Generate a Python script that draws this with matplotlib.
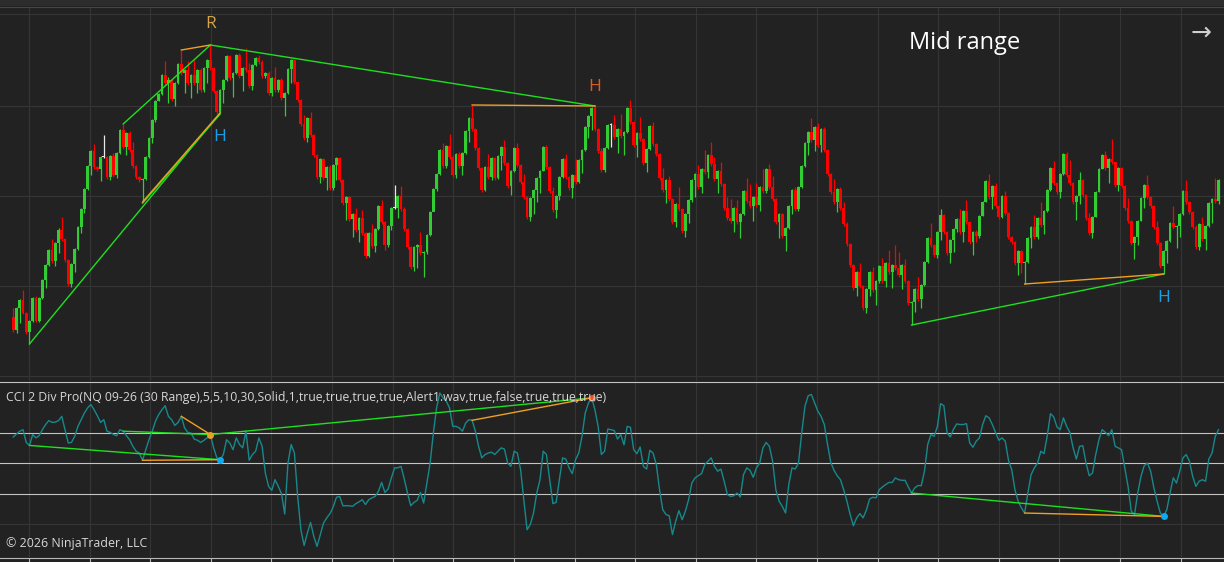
import numpy as np
import matplotlib
matplotlib.use("Agg")
import matplotlib.pyplot as plt
from matplotlib.lines import Line2D
from matplotlib.patches import Rectangle

# range bars, NQ 09-26 (30 Range); price in chart points, open = previous close
first_open = 63
closes = [
    50, 72, 80, 67, 48, 59, 82, 59, 82, 100,
    115, 130, 119, 137, 150, 141, 120, 96, 116, 131,
    153, 171, 191, 214, 229, 213, 211, 223, 223, 203,
    224, 205, 227, 250, 233, 247, 230, 214, 203, 200,
    201, 223, 242, 260, 279, 286, 305, 297, 300, 281,
    297, 316, 307, 310, 297, 305, 297, 310, 290, 312,
    320, 312, 289, 268, 290, 300, 324, 302, 307, 325,
    304, 312, 310, 294, 315, 322, 318, 304, 307, 287,
    302, 290, 300, 282, 287, 311, 320, 298, 280, 256,
    242, 262, 245, 225, 203, 221, 202, 213, 192, 215,
    222, 200, 177, 183, 161, 166, 150, 162, 147, 124,
    147, 134, 151, 174, 158, 135, 154, 172, 172, 184,
    171, 151, 133, 113, 133, 135, 127, 128, 145, 168,
    191, 206, 230, 214, 234, 223, 205, 226, 214, 227,
    249, 262, 251, 232, 212, 190, 213, 203, 222, 202,
    224, 233, 217, 194, 209, 232, 215, 198, 183, 163,
    182, 190, 202, 209, 233, 213, 189, 170, 184, 203,
    221, 203, 192, 205, 198, 220, 230, 253, 264, 272,
    251, 229, 210, 232, 255, 255, 243, 251, 244, 248,
    272, 258, 235, 247, 241, 217, 231, 254, 236, 226,
    202, 190, 200, 181, 158, 176, 171, 149, 166, 180,
    200, 206, 193, 211, 208, 225, 216, 201, 209, 196,
    172, 162, 159, 172, 158, 166, 189, 179, 174, 183,
    175, 193, 189, 211, 193, 181, 158, 166, 144, 152,
    174, 190, 171, 193, 214, 237, 248, 240, 253, 235,
    251, 230, 206, 188, 178, 191, 172, 156, 136, 115,
    92, 108, 94, 72, 91, 108, 90, 99, 114, 99,
    117, 108, 115, 112, 105, 115, 99, 77, 78, 91,
    81, 95, 118, 142, 135, 125, 148, 165, 148, 127,
    140, 151, 161, 148, 169, 158, 138, 148, 144, 164,
    178, 199, 183, 194, 174, 163, 184, 167, 143, 138,
    117, 129, 117, 118, 142, 153, 143, 162, 155, 169,
    190, 212, 197, 188, 206, 226, 205, 197, 178, 184,
    200, 185, 162, 147, 163, 188, 211, 225, 212, 221,
    218, 195, 212, 194, 172, 159, 137, 143, 159, 182,
    195, 183, 174, 153, 137, 114, 129, 139, 157, 153,
    154, 166, 189, 178, 168, 153, 133, 156, 141, 154,
    177, 181, 179, 200,
]
highs = [
    72, 73, 81, 90, 68, 60, 83, 84, 83, 101,
    116, 131, 141, 138, 152, 163, 142, 121, 117, 132,
    154, 172, 192, 215, 230, 236, 214, 224, 245, 224,
    225, 227, 228, 251, 256, 248, 249, 238, 215, 204,
    202, 224, 243, 261, 280, 287, 306, 319, 303, 301,
    298, 317, 330, 311, 319, 306, 320, 311, 312, 313,
    321, 335, 313, 290, 291, 301, 325, 325, 308, 326,
    327, 313, 332, 317, 316, 323, 325, 320, 308, 309,
    303, 313, 301, 302, 288, 312, 321, 321, 299, 281,
    265, 263, 268, 246, 226, 222, 222, 214, 215, 216,
    223, 223, 201, 184, 184, 167, 172, 163, 170, 148,
    148, 156, 152, 175, 180, 159, 155, 173, 195, 185,
    194, 173, 152, 134, 134, 136, 148, 129, 146, 169,
    192, 207, 231, 237, 235, 246, 225, 227, 228, 228,
    250, 263, 275, 252, 233, 213, 214, 226, 223, 223,
    225, 234, 240, 218, 210, 233, 237, 216, 206, 184,
    183, 191, 203, 210, 234, 235, 214, 193, 185, 204,
    222, 226, 204, 206, 221, 221, 231, 254, 265, 273,
    274, 252, 232, 233, 256, 257, 265, 252, 266, 249,
    273, 280, 259, 248, 263, 242, 232, 255, 258, 237,
    227, 212, 201, 204, 182, 177, 193, 172, 167, 181,
    201, 207, 215, 212, 230, 226, 238, 223, 210, 218,
    197, 183, 181, 173, 180, 167, 190, 202, 196, 184,
    197, 194, 211, 212, 216, 204, 182, 167, 167, 153,
    175, 191, 193, 194, 215, 238, 249, 262, 254, 257,
    252, 253, 231, 207, 201, 192, 193, 178, 158, 137,
    116, 109, 117, 95, 92, 109, 113, 100, 115, 122,
    118, 130, 116, 135, 128, 116, 121, 100, 79, 92,
    103, 96, 119, 143, 157, 136, 149, 171, 166, 149,
    141, 152, 162, 171, 170, 180, 159, 149, 150, 165,
    179, 200, 206, 195, 197, 175, 185, 189, 168, 144,
    139, 130, 130, 119, 143, 154, 165, 163, 178, 170,
    191, 213, 219, 198, 207, 227, 228, 220, 198, 185,
    208, 201, 186, 167, 164, 189, 212, 226, 229, 222,
    241, 218, 213, 213, 195, 182, 160, 144, 160, 183,
    196, 205, 184, 175, 159, 138, 130, 140, 158, 174,
    155, 167, 190, 200, 179, 169, 155, 157, 163, 155,
    178, 182, 202, 201,
]
lows = [
    48, 47, 57, 66, 46, 36, 58, 58, 58, 81,
    92, 114, 117, 114, 127, 139, 118, 94, 93, 108,
    130, 147, 167, 190, 205, 211, 209, 199, 222, 201,
    200, 203, 202, 226, 231, 225, 228, 212, 201, 198,
    178, 200, 222, 237, 258, 279, 285, 295, 277, 279,
    274, 296, 305, 287, 295, 282, 295, 287, 288, 288,
    297, 310, 287, 266, 267, 277, 299, 300, 283, 306,
    302, 289, 308, 292, 290, 314, 316, 302, 302, 285,
    284, 288, 288, 280, 264, 286, 297, 296, 278, 254,
    240, 238, 243, 223, 201, 197, 200, 190, 190, 190,
    200, 198, 175, 160, 159, 143, 148, 138, 145, 122,
    123, 132, 128, 150, 156, 130, 133, 150, 171, 162,
    169, 149, 131, 111, 109, 112, 125, 103, 126, 144,
    180, 189, 205, 212, 212, 221, 203, 202, 212, 205,
    226, 238, 249, 230, 210, 188, 189, 201, 200, 200,
    201, 210, 215, 192, 185, 208, 213, 196, 181, 161,
    159, 166, 178, 187, 209, 211, 187, 168, 162, 180,
    202, 201, 190, 182, 196, 197, 207, 229, 242, 250,
    249, 227, 208, 208, 231, 233, 241, 227, 242, 225,
    247, 256, 233, 223, 239, 215, 208, 230, 234, 224,
    200, 188, 177, 179, 156, 153, 169, 147, 143, 157,
    178, 183, 191, 187, 206, 202, 214, 199, 187, 194,
    170, 160, 157, 148, 156, 142, 165, 177, 172, 159,
    173, 169, 187, 187, 191, 179, 156, 142, 142, 129,
    151, 166, 169, 169, 192, 213, 225, 238, 229, 233,
    228, 228, 204, 186, 176, 168, 170, 154, 134, 113,
    90, 84, 92, 70, 67, 84, 88, 75, 97, 97,
    93, 106, 92, 110, 103, 91, 97, 75, 55, 68,
    79, 72, 94, 117, 133, 123, 122, 140, 146, 125,
    117, 128, 148, 146, 138, 156, 136, 125, 138, 142,
    164, 178, 181, 171, 172, 161, 162, 165, 141, 136,
    115, 105, 107, 96, 117, 132, 141, 141, 153, 146,
    168, 189, 195, 186, 182, 205, 203, 195, 176, 160,
    176, 183, 160, 145, 142, 163, 188, 211, 210, 197,
    216, 193, 189, 192, 170, 157, 135, 121, 135, 159,
    172, 181, 172, 151, 135, 112, 106, 117, 138, 151,
    132, 143, 165, 176, 166, 151, 131, 130, 139, 130,
    153, 157, 177, 176,
]
cci = [
    87, 97, 106, 111, 69, 59, 95, 84, 91, 111,
    128, 141, 135, 136, 141, 155, 111, 67, 69, 89,
    122, 144, 166, 183, 194, 177, 157, 135, 144, 106,
    102, 95, 91, 111, 106, 91, 78, 56, 40, 34,
    10, 45, 78, 106, 139, 161, 177, 190, 155, 144,
    125, 135, 155, 117, 102, 100, 80, 76, 69, 76,
    84, 95, 51, 18, 12, 29, 78, 67, 45, 84,
    62, 51, 106, 10, 29, 40, 84, 56, -32, -76,
    -89, -54, -76, -100, -167, 1, 62, 34, -109, -219,
    -271, -230, -195, -241, -274, -235, -197, -180, -166, -144,
    -112, -109, -140, -140, -140, -142, -133, -127, -120, -136,
    -120, -114, -109, -92, -63, -96, -85, -48, -15, -15,
    -10, -52, -98, -140, -129, -122, -96, -131, -65, 1,
    100, 183, 232, 216, 205, 183, 122, 122, 117, 106,
    133, 144, 142, 106, 56, 18, 29, 34, 37, 29,
    40, 51, 47, 1, -10, 40, 34, -21, -120, -219,
    -202, -164, -98, -54, 40, 29, -54, -133, -129, -54,
    18, 14, -15, -34, 12, 34, 89, 166, 199, 216,
    177, 122, 29, 40, 113, 111, 108, 80, 95, 61,
    122, 119, 45, 32, 54, -10, -19, 43, 34, -4,
    -87, -153, -169, -173, -235, -191, -156, -186, -158, -120,
    -65, -48, -41, -34, -4, 7, 18, -10, -26, -19,
    -59, -103, -109, -107, -98, -111, -37, -15, -23, -46,
    -15, 1, 51, 69, 56, 7, -87, -125, -142, -164,
    -70, -15, -19, 1, 100, 188, 223, 227, 199, 172,
    155, 128, 62, 3, -23, -41, -54, -87, -125, -169,
    -206, -180, -166, -180, -155, -118, -112, -114, -87, -78,
    -70, -63, -63, -48, -54, -56, -56, -78, -98, -81,
    -73, -74, -26, 62, 95, 89, 122, 197, 190, 100,
    87, 113, 130, 128, 128, 131, 67, 53, 73, 84,
    128, 157, 150, 128, 102, 76, 84, 73, 10, -21,
    -87, -125, -147, -164, -98, -37, -15, 1, 40, 32,
    91, 164, 153, 120, 111, 150, 122, 102, 51, 14,
    56, 58, 1, -41, -32, 29, 78, 111, 102, 91,
    111, 56, 51, 45, -15, -76, -158, -169, -98, -43,
    -8, 1, -26, -81, -125, -164, -175, -153, -98, -48,
    -65, -26, 18, 29, 7, -43, -76, -59, -54, -59,
    14, 34, 89, 111,
]
cci_levels = [100, 0, -100]

# divergences: (from bar, to bar, price side, kind)
price_divs = [
    (6, 65, "low", "regular"), (41, 65, "low", "hidden"),
    (35, 62, "high", "regular"), (53, 62, "high", "hidden"),
    (62, 181, "high", "regular"), (143, 181, "high", "hidden"),
    (279, 357, "low", "regular"), (314, 357, "low", "hidden"),
]
cci_divs = [
    (6, 65, "regular"), (41, 65, "hidden"),
    (35, 62, "regular"), (53, 62, "hidden"),
    (62, 180, "regular"), (143, 180, "hidden"),
    (279, 357, "regular"), (314, 357, "hidden"),
]
cci_dots = [(62, "#e4a12a"), (65, "#12a8f0"), (180, "#f4511e"), (357, "#12a8f0")]
# swing labels: (bar, price, text, colour)
swing_labels = [
    (62, 356, "R", "#d6a545"),
    (65, 243, "H", "#1a9fe6"),
    (181, 293, "H", "#e05a22"),
    (357, 82, "H", "#1a9fe6"),
]

BG = "#222222"
GRID = "#353535"
UP = "#32cd32"
DOWN = "#ff0000"
DOJI = "#e8e8e8"
DIV_GREEN = "#1ee01e"
DIV_ORANGE = "#f0a020"

W, H = 1224, 562
fig = plt.figure(figsize=(W / 100, H / 100), dpi=100, facecolor=BG)


def panel(top, bottom):
    a = fig.add_axes([0, (H - bottom) / H, 1, (bottom - top) / H])
    a.set_facecolor(BG)
    a.set_axis_off()
    return a


n = len(closes)
bars = np.arange(1, n + 1)
x_lo, x_hi = -3.12, 375.7
grid_x = [5.86 + 18.76 * k for k in range(20)]

# ---- price panel
ax = panel(7, 381)
ax.set_xlim(x_lo, x_hi)
ax.set_ylim(-1, 373)
for gx in grid_x:
    ax.axvline(gx, color=GRID, lw=0.8, zorder=0)
for gy in [4, 94, 184, 274, 366]:
    ax.axhline(gy, color=GRID, lw=0.8, zorder=0)

o = np.array([first_open] + closes[:-1], dtype=float)
c = np.array(closes, dtype=float)
cols = np.where(c > o, UP, np.where(c < o, DOWN, DOJI))
ax.vlines(bars, lows, highs, colors=cols, lw=0.9, zorder=2)
body_low = np.minimum(o, c)
body_h = np.maximum(np.abs(c - o), 1.0)
ax.bar(bars, body_h, bottom=body_low, width=0.86, color=cols, linewidth=0, zorder=3)

side = {"low": lows, "high": highs}
for b0, b1, s, kind in price_divs:
    y0, y1 = side[s][b0 - 1], side[s][b1 - 1]
    if kind == "regular":
        ax.plot([b0, b1], [y0, y1], color=DIV_GREEN, lw=1.0, zorder=4)
    else:
        # hidden ones show a green twin right under the orange
        if s == "low" and b1 == 65:
            ax.plot([b0, b1], [y0 - 1.2, y1 - 1.2], color=DIV_GREEN, lw=1.0, zorder=4)
        ax.plot([b0, b1], [y0, y1], color=DIV_ORANGE, lw=1.0, zorder=4)

for b, p, t, col in swing_labels:
    ax.text(b, p, t, color=col, fontsize=12.5, ha="center", va="center",
            family="Open Sans")

# ---- CCI panel
ax2 = panel(383, 557)
ax2.set_xlim(x_lo, x_hi)
ax2.set_ylim(-309, 265)
for gx in grid_x:
    ax2.axvline(gx, color=GRID, lw=0.8, zorder=0)
ax2.axhline(-200, color=GRID, lw=0.8, zorder=0)
for lv in cci_levels:
    ax2.axhline(lv, color="#c4c4c4", lw=0.8, zorder=1)
ax2.plot(bars, cci, color="#17898c", lw=1.0, zorder=2)
for b0, b1, kind in cci_divs:
    col = DIV_GREEN if kind == "regular" else DIV_ORANGE
    ax2.plot([b0, b1], [cci[b0 - 1], cci[b1 - 1]], color=col, lw=1.0, zorder=3)
for b, col in cci_dots:
    ax2.plot(b, cci[b - 1], "o", color=col, ms=5, mec="none", zorder=4)

# ---- frame bits
fig.patches.append(Rectangle((0, (H - 6) / H), 1, 6 / H, transform=fig.transFigure,
                             facecolor="#2c2c2c", edgecolor="none"))
fig.lines.append(Line2D([0, 1], [(H - 6.5) / H] * 2, transform=fig.transFigure,
                        color="#444444", lw=0.8))
fig.lines.append(Line2D([0, 1], [(H - 382) / H] * 2, transform=fig.transFigure,
                        color="#c4c4c4", lw=0.8))
fig.lines.append(Line2D([0, 1], [(H - 557.5) / H] * 2, transform=fig.transFigure,
                        color="#b8b8b8", lw=0.8))
for gx in grid_x:
    fx = (gx - x_lo) / (x_hi - x_lo)
    fig.lines.append(Line2D([fx, fx], [(H - 557.5) / H, 0], transform=fig.transFigure,
                            color="#b8b8b8", lw=0.8))

fig.text(6 / W, 1 - 397.5 / H,
         "CCI 2 Div Pro(NQ 09-26 (30 Range),5,5,10,30,Solid,1,true,true,true,true,"
         "Alert1.wav,true,false,true,true,true)",
         color="#d6d6d6", fontsize=8.8, ha="left", va="center", family="Open Sans")
fig.text(6 / W, 1 - 543.5 / H, "\u00a9 2026 NinjaTrader, LLC",
         color="#d6d6d6", fontsize=8.9, ha="left", va="center", family="Open Sans")
fig.text(909 / W, 1 - 49 / H, "Mid range", color="white", fontsize=17,
         ha="left", va="baseline", family="Open Sans")
fig.text(1201 / W, 1 - 33 / H, "\u2192", color="#d0d0d0", fontsize=18,
         ha="center", va="center", family="DejaVu Sans")

fig.savefig("out.png", dpi=100, facecolor=BG)
